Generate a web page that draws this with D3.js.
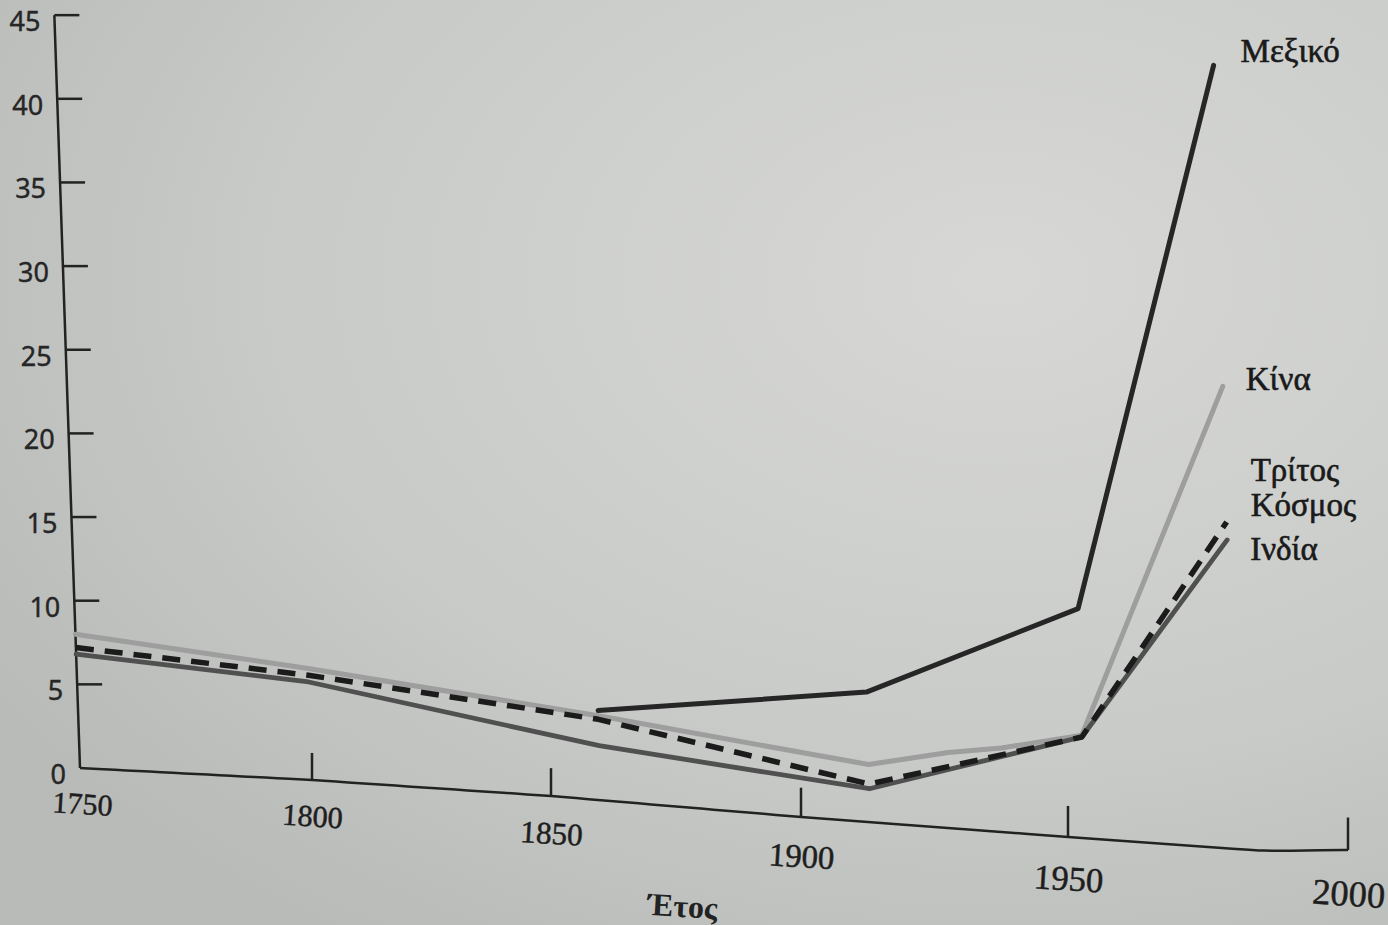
<!DOCTYPE html>
<html>
<head>
<meta charset="utf-8">
<script src="https://cdn.jsdelivr.net/npm/d3@7"></script>
<style>
  html, body { margin: 0; padding: 0; background: #c6c8c6; }
  svg { display: block; }
</style>
</head>
<body>
<div id="chart"></div>
<script>
// chart values
const tickYears = [1750, 1800, 1850, 1900, 1950, 2000];
const yTickValues = [0, 5, 10, 15, 20, 25, 30, 35, 40, 45];

const mexicoYears = [1860, 1913, 1953, 1980];
const mexicoValues = [5.1, 7.0, 11.8, 39.3];

const chinaYears = [1750, 1800, 1860, 1913, 1928, 1938, 1953, 1980];
const chinaValues = [8.0, 6.6, 4.8, 3.1, 4.0, 4.4, 5.3, 23.2];

const worldYears = [1750, 1800, 1860, 1913, 1953, 1980];
const worldValues = [7.2, 6.2, 4.6, 2.05, 5.2, 16.4];

const indiaYears = [1750, 1800, 1860, 1913, 1953, 1980];
const indiaValues = [6.8, 5.8, 3.1, 1.8, 5.2, 15.5];

const width = 1388, height = 925;

// the page was photographed at an angle, so the scales bend a little
const xPix = d3.scaleLinear().domain(tickYears).range([80, 312, 551, 801, 1068, 1348]);
const basePix = d3.scaleLinear().domain([1750, 1800, 1850, 1900, 1950, 1985, 2000])
  .range([768, 780, 796, 817, 837, 851, 850]);
const unitPix = d3.scaleLinear().domain(tickYears).range([16.73, 16.9, 17.4, 18.3, 19.4, 20.3]);
const lean = 0.57; // y axis leans left as it rises

function P(year, v) {
  return [xPix(year) - lean * v, basePix(year) - unitPix(year) * v];
}

const svg = d3.select("#chart").append("svg")
  .attr("width", width).attr("height", height);

// paper background
const grad = svg.append("defs").append("radialGradient")
  .attr("id", "paper").attr("cx", "0.72").attr("cy", "0.3").attr("r", "0.85");
grad.append("stop").attr("offset", "0").attr("stop-color", "#d7d8d6");
grad.append("stop").attr("offset", "0.6").attr("stop-color", "#c9cbc9");
grad.append("stop").attr("offset", "1").attr("stop-color", "#b9bbb9");
svg.append("rect").attr("width", width).attr("height", height).attr("fill", "url(#paper)");

const ink = "#222";

// y axis
svg.append("line")
  .attr("x1", P(1750, 0)[0]).attr("y1", P(1750, 0)[1])
  .attr("x2", P(1750, 45)[0]).attr("y2", P(1750, 45)[1])
  .attr("stroke", ink).attr("stroke-width", 2.5);

const yt = svg.append("g").selectAll("g").data(yTickValues).enter().append("g");
yt.filter(d => d > 0).append("line")
  .attr("x1", d => P(1750, d)[0]).attr("y1", d => P(1750, d)[1])
  .attr("x2", d => P(1750, d)[0] + 25).attr("y2", d => P(1750, d)[1])
  .attr("stroke", ink).attr("stroke-width", 2.5);
yt.append("text")
  .attr("x", d => P(1750, d)[0] - 14)
  .attr("y", d => P(1750, d)[1] + 16)
  .attr("text-anchor", "end")
  .attr("font-family", "Noto Sans, sans-serif")
  .attr("font-size", 27)
  .attr("fill", "#262626")
  .attr("stroke", "#262626").attr("stroke-width", 0.4)
  .text(d => d);

// x axis
const axisYears = d3.range(1750, 2001, 5);
svg.append("path")
  .attr("d", d3.line().curve(d3.curveBasis).x(d => P(d, 0)[0]).y(d => P(d, 0)[1])(axisYears))
  .attr("fill", "none").attr("stroke", ink).attr("stroke-width", 2.5);

const xt = svg.append("g").selectAll("g").data(tickYears).enter().append("g");
xt.filter(d => d > 1750).append("line")
  .attr("x1", d => P(d, 0)[0]).attr("y1", d => P(d, 0)[1])
  .attr("x2", d => P(d, 0)[0]).attr("y2", d => P(d, 0)[1] - unitPix(d) * 1.6)
  .attr("stroke", ink).attr("stroke-width", 2.5);
xt.append("text")
  .attr("transform", d => {
    const p = P(d, 0);
    const s = unitPix(d) / 16.73;
    return "translate(" + (p[0] + (d === 1750 ? 2 : 0)) + "," + (p[1] + 46 * s) + ") rotate(3.5)";
  })
  .attr("text-anchor", "middle")
  .attr("font-family", "Liberation Serif, serif")
  .attr("font-size", d => 30 * unitPix(d) / 16.73)
  .attr("fill", "#1e1e1e")
  .attr("stroke", "#1e1e1e").attr("stroke-width", 0.5)
  .text(d => d);

svg.append("text")
  .attr("transform", "translate(682,917) rotate(3.5)")
  .attr("text-anchor", "middle")
  .attr("font-family", "Liberation Serif, serif")
  .attr("font-weight", "bold")
  .attr("font-size", 32)
  .attr("fill", "#222")
  .text("Έτος");

// series
const line = d3.line().x(d => P(d[0], d[1])[0]).y(d => P(d[0], d[1])[1]);
const pairs = (ys, vs) => ys.map((y, i) => [y, vs[i]]);

const series = [
  {name: "china", pts: pairs(chinaYears, chinaValues), color: "#9d9e9d", w: 5, dash: null},
  {name: "india", pts: pairs(indiaYears, indiaValues), color: "#4f504f", w: 4.8, dash: null},
  {name: "world", pts: pairs(worldYears, worldValues), color: "#1b1b1b", w: 5.5, dash: "18,11"},
  {name: "mexico", pts: pairs(mexicoYears, mexicoValues), color: "#262626", w: 5, dash: null}
];

svg.append("g").selectAll("path").data(series).enter().append("path")
  .attr("d", d => line(d.pts))
  .attr("fill", "none")
  .attr("stroke", d => d.color)
  .attr("stroke-width", d => d.w)
  .attr("stroke-linejoin", "round")
  .attr("stroke-linecap", d => d.dash ? "butt" : "round")
  .attr("stroke-dasharray", d => d.dash);

// labels next to the line ends
function endOf(ys, vs) { return P(ys[ys.length - 1], vs[vs.length - 1]); }
const labels = [
  {text: "Μεξικό", at: endOf(mexicoYears, mexicoValues), dx: 27, dy: -3},
  {text: "Κίνα", at: endOf(chinaYears, chinaValues), dx: 23, dy: 4},
  {text: "Τρίτος", at: endOf(worldYears, worldValues), dx: 24, dy: -41},
  {text: "Κόσμος", at: endOf(worldYears, worldValues), dx: 24, dy: -6},
  {text: "Ινδία", at: endOf(indiaYears, indiaValues), dx: 23, dy: 20}
];
svg.append("g").selectAll("text").data(labels).enter().append("text")
  .attr("x", d => d.at[0] + d.dx)
  .attr("y", d => d.at[1] + d.dy)
  .attr("font-family", "Liberation Serif, serif")
  .attr("font-size", 33)
  .attr("fill", "#1a1a1a")
  .attr("stroke", "#1a1a1a").attr("stroke-width", 0.6)
  .text(d => d.text);
</script>
</body>
</html>
